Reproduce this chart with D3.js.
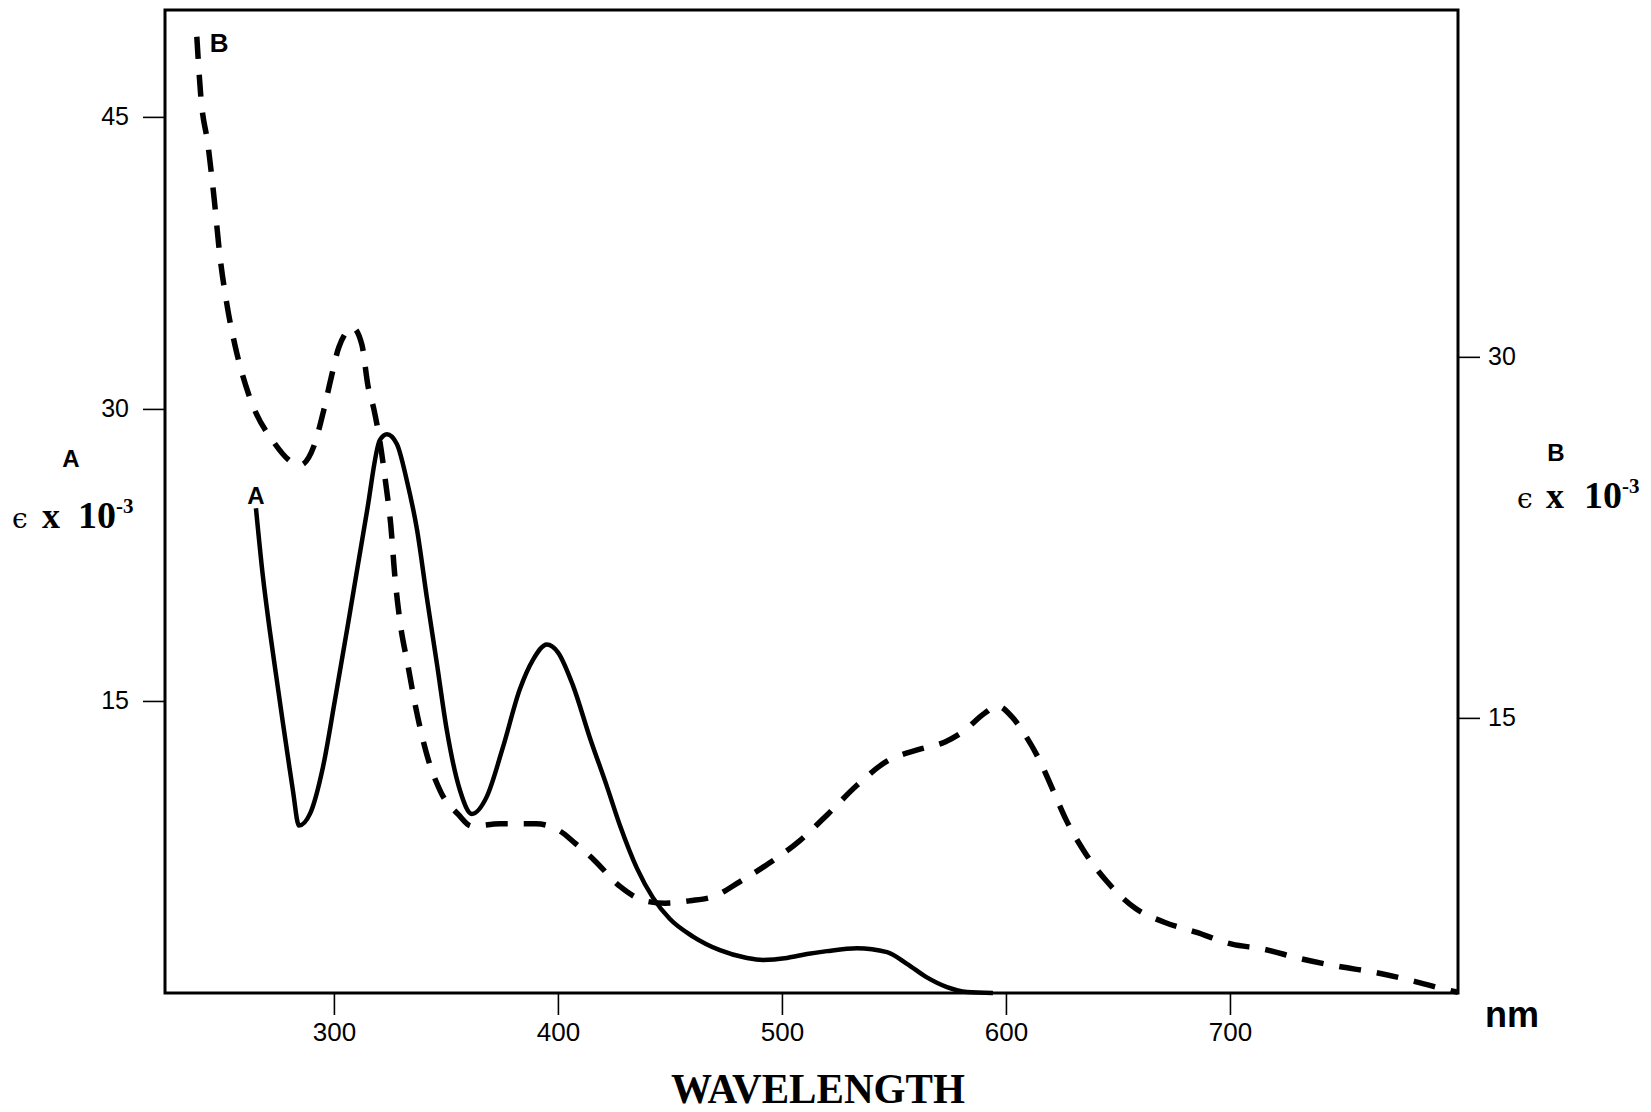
<!DOCTYPE html>
<html>
<head>
<meta charset="utf-8">
<script src="https://cdn.jsdelivr.net/npm/d3@7"></script>
<style>
  body { margin: 0; background: #fff; }
  svg { display: block; }
</style>
</head>
<body>
<div id="spectrum"></div>
<script>
// Curve A (solid, left axis)
const wavelengthA = [265.2, 268.3, 271.4, 274.6, 277.2, 279.5, 281.7, 284.4, 289.3, 295.1,
  300.4, 307.1, 314.7, 320.5, 323.7, 328.1, 332.6, 337.1, 341.5, 346.0,
  350.4, 356.3, 361.6, 368.3, 375.4, 383.0, 388.8, 395.1, 400.0, 406.7,
  414.3, 421.9, 427.7, 435.3, 442.4, 450.0, 460.3, 472.3, 484.4, 491.5,
  502.2, 511.2, 520.1, 533.5, 546.9, 555.8, 564.7, 573.7, 582.6, 594.2];
const epsilonA = [24.9, 21.4, 18.6, 16.0, 13.9, 12.1, 10.4, 8.6, 9.2, 11.6,
  15.0, 19.5, 24.7, 28.4, 28.7, 28.2, 26.3, 23.8, 20.3, 16.9,
  13.5, 10.4, 9.2, 10.1, 12.6, 15.6, 17.1, 17.9, 17.5, 15.8,
  13.1, 10.6, 8.6, 6.4, 4.9, 3.8, 2.9, 2.2, 1.8, 1.7,
  1.8, 2.0, 2.15, 2.3, 2.1, 1.5, 0.8, 0.3, 0.05, 0];

// Curve B (dashed, right axis)
const wavelengthB = [238.8, 240.6, 243.8, 246.4, 249.1, 252.2, 255.8, 262.1, 272.8, 284.8,
  291.1, 295.5, 298.7, 302.2, 308.5, 312.5, 315.2, 317.9, 320.5, 323.2,
  325.4, 327.2, 329.5, 333.0, 336.6, 341.1, 347.8, 355.4, 361.6, 374.1,
  390.2, 400.9, 407.6, 416.1, 427.7, 438.8, 447.8, 458.9, 470.1, 481.3,
  493.3, 508.0, 520.5, 533.5, 546.9, 561.6, 572.8, 580.4, 590.6, 596.0,
  603.1, 608.5, 615.2, 620.5, 627.2, 635.3, 645.1, 657.6, 671.0, 684.8,
  700.9, 714.7, 731.3, 746.9, 766.1, 780.4, 796.9, 801.8];
const epsilonB = [43.3, 40.8, 38.8, 36.7, 34.2, 32.2, 30.5, 28.4, 26.5, 25.5,
  26.3, 27.8, 29.1, 30.4, 31.2, 30.5, 28.8, 27.8, 26.5, 24.7,
  23.0, 20.9, 19.0, 17.2, 15.4, 13.6, 11.9, 11.0, 10.5, 10.6,
  10.6, 10.3, 9.8, 9.1, 8.0, 7.4, 7.3, 7.4, 7.6, 8.2,
  8.9, 9.9, 11.0, 12.2, 13.2, 13.7, 14.0, 14.4, 15.2, 15.5,
  15.0, 14.3, 13.2, 12.1, 10.7, 9.4, 8.2, 7.1, 6.5, 6.1,
  5.6, 5.4, 5.0, 4.7, 4.4, 4.1, 3.7, 3.6];

const xTicks = [300, 400, 500, 600, 700];
const leftTicks = [15, 30, 45];
const rightTicks = [15, 30];

const dataA = wavelengthA.map((w, i) => ({ w: w, e: epsilonA[i] }));
const dataB = wavelengthB.map((w, i) => ({ w: w, e: epsilonB[i] }));

// Set the dimensions and margins of the graph
const margin = { top: 10, right: 193, bottom: 119, left: 165 },
  width = 1651 - margin.left - margin.right,
  height = 1112 - margin.top - margin.bottom;

const root = d3
  .select("#spectrum")
  .append("svg")
  .attr("width", width + margin.left + margin.right)
  .attr("height", height + margin.top + margin.bottom);

const svg = root
  .append("g")
  .attr("transform", `translate(${margin.left},${margin.top})`);

// Scales
const x = d3.scaleLinear().domain([224.6, 801.8]).range([0, width]);
const yA = d3.scaleLinear().domain([0, 50.49]).range([height, 0]);
const yB = d3.scaleLinear().domain([3.57, 44.41]).range([height, 0]);

const tickFont = "'Liberation Sans', Arial, sans-serif";

function styleAxis(g) {
  g.select(".domain").remove();
  g.selectAll(".tick line").attr("stroke", "#000").attr("stroke-width", 1.6);
  g.selectAll(".tick text")
    .attr("fill", "#000")
    .style("font-family", tickFont)
    .style("font-size", "25px");
}

// Axes
svg
  .append("g")
  .call(d3.axisLeft(yA).tickValues(leftTicks).tickSize(22).tickPadding(14))
  .call(styleAxis);

svg
  .append("g")
  .attr("transform", `translate(${width},0)`)
  .call(d3.axisRight(yB).tickValues(rightTicks).tickSize(22).tickPadding(8))
  .call(styleAxis);

svg
  .append("g")
  .attr("transform", `translate(0,${height})`)
  .call(d3.axisBottom(x).tickValues(xTicks).tickSize(22).tickPadding(8))
  .call(styleAxis)
  .selectAll(".tick text")
  .style("font-size", "26px");

// Frame
svg
  .append("rect")
  .attr("width", width)
  .attr("height", height)
  .attr("fill", "none")
  .attr("stroke", "#000")
  .attr("stroke-width", 3);

// Curves
const lineA = d3
  .line()
  .x((d) => x(d.w))
  .y((d) => yA(d.e))
  .curve(d3.curveMonotoneX);

const lineB = d3
  .line()
  .x((d) => x(d.w))
  .y((d) => yB(d.e))
  .curve(d3.curveMonotoneX);

svg
  .append("path")
  .datum(dataA)
  .attr("d", lineA)
  .attr("fill", "none")
  .attr("stroke", "#000")
  .attr("stroke-width", 4.5)
  .attr("stroke-linejoin", "round");

svg
  .append("path")
  .datum(dataB)
  .attr("d", lineB)
  .attr("fill", "none")
  .attr("stroke", "#000")
  .attr("stroke-width", 5.5)
  .attr("stroke-dasharray", "22,16");

// Curve labels
svg
  .append("text")
  .attr("x", x(wavelengthB[0]) + 13)
  .attr("y", yB(epsilonB[0]) + 15)
  .style("font-family", tickFont)
  .style("font-weight", "bold")
  .style("font-size", "26px")
  .text("B");

svg
  .append("text")
  .attr("x", x(wavelengthA[0]))
  .attr("y", yA(epsilonA[0]) - 4)
  .attr("text-anchor", "middle")
  .style("font-family", tickFont)
  .style("font-weight", "bold")
  .style("font-size", "24px")
  .text("A");

// Axis titles
const serif = "'Liberation Serif', 'Times New Roman', serif";

function epsLabel(letter, lx, ly, parts) {
  root
    .append("text")
    .attr("x", lx)
    .attr("y", ly)
    .attr("text-anchor", "middle")
    .style("font-family", tickFont)
    .style("font-weight", "bold")
    .style("font-size", "24px")
    .text(letter);
  const t = root.append("text").attr("y", parts.base);
  t.append("tspan")
    .attr("x", parts.eps)
    .style("font-family", "'DejaVu Serif', serif")
    .style("font-size", "28px")
    .text("ϵ");
  t.append("tspan")
    .attr("x", parts.times)
    .style("font-family", serif)
    .style("font-weight", "bold")
    .style("font-size", "36px")
    .text("x");
  t.append("tspan")
    .attr("x", parts.ten)
    .style("font-family", serif)
    .style("font-weight", "bold")
    .style("font-size", "38px")
    .text("10");
  t.append("tspan")
    .attr("dy", -15)
    .style("font-family", serif)
    .style("font-weight", "bold")
    .style("font-size", "21px")
    .text("-3");
}

epsLabel("A", 71, 467, { base: 528, eps: 12, times: 42, ten: 78 });
epsLabel("B", 1556, 461, { base: 508, eps: 1517, times: 1546, ten: 1584 });

root
  .append("text")
  .attr("x", 1512)
  .attr("y", 1027)
  .attr("text-anchor", "middle")
  .style("font-family", "'Liberation Sans Narrow', 'Liberation Sans', sans-serif")
  .style("font-weight", "bold")
  .style("font-size", "36px")
  .text("nm");

root
  .append("text")
  .attr("x", 818)
  .attr("y", 1103)
  .attr("text-anchor", "middle")
  .attr("textLength", 294)
  .attr("lengthAdjust", "spacingAndGlyphs")
  .style("font-family", serif)
  .style("font-weight", "bold")
  .style("font-size", "42px")
  .text("WAVELENGTH");
</script>
</body>
</html>
